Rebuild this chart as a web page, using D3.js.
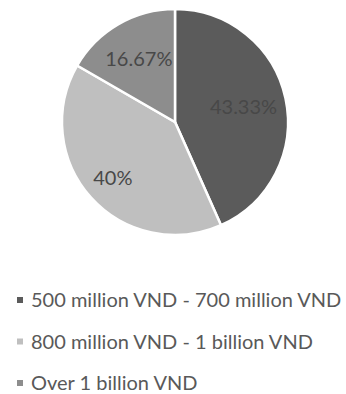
<!DOCTYPE html>
<html>
<head>
<meta charset="utf-8">
<script src="https://cdn.jsdelivr.net/npm/d3@7"></script>
<style>
  html, body { margin: 0; padding: 0; background: #fff; }
  svg { display: block; }
</style>
</head>
<body>
<svg id="chart" width="346" height="394"></svg>
<script>
// Price range shares
const categories = ["500 million VND - 700 million VND", "800 million VND - 1 billion VND", "Over 1 billion VND"];
const values = [43.33, 40, 16.67];
const valueLabels = ["43.33%", "40%", "16.67%"];
const colors = ["#5b5b5b", "#bfbfbf", "#8d8d8d"];

const svg = d3.select("#chart");
const cx = 175, cy = 122, r = 113;
// radial placement of each value label, as a fraction of the radius
const labelRadius = [0.62, 0.74, 0.64];

const pie = d3.pie().sort(null).value(d => d.value);
const arcs = pie(categories.map((c, i) => ({ name: c, value: values[i], label: valueLabels[i] })));
const arc = d3.arc().innerRadius(0).outerRadius(r);

const g = svg.append("g").attr("transform", `translate(${cx},${cy})`);

g.selectAll("path.slice")
  .data(arcs)
  .join("path")
  .attr("class", "slice")
  .attr("d", arc)
  .attr("fill", (d, i) => colors[i])
  .attr("stroke", "#fff")
  .attr("stroke-width", 2.5);

g.selectAll("text.val")
  .data(arcs)
  .join("text")
  .attr("class", "val")
  .attr("transform", (d, i) => {
    const lr = r * labelRadius[i];
    const c = d3.arc().innerRadius(lr).outerRadius(lr).centroid(d);
    return `translate(${c})`;
  })
  .attr("text-anchor", "middle")
  .attr("dy", "0.35em")
  .attr("font-family", "Lato, 'Open Sans', sans-serif")
  .attr("font-size", 20)
  .attr("fill", "#484848")
  .text(d => d.data.label);

// Legend
const legend = svg.append("g").attr("transform", "translate(20,300)");
const rowGap = 41.5;
const rows = legend.selectAll("g.row")
  .data(categories)
  .join("g")
  .attr("class", "row")
  .attr("transform", (d, i) => `translate(0,${i * rowGap})`);

rows.append("rect")
  .attr("x", -3).attr("y", -3)
  .attr("width", 6).attr("height", 6)
  .attr("fill", (d, i) => colors[i]);

rows.append("text")
  .attr("x", 11)
  .attr("dy", "0.35em")
  .attr("font-family", "Lato, 'Open Sans', sans-serif")
  .attr("font-size", 20)
  .attr("fill", "#595959")
  .text(d => d);
</script>
</body>
</html>
